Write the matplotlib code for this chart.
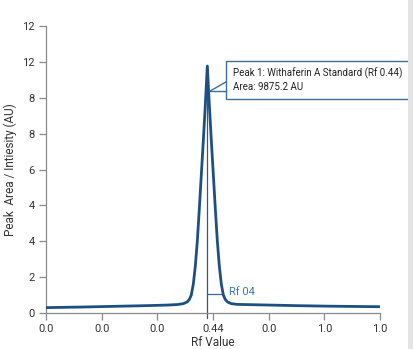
import matplotlib
matplotlib.use("Agg")
import matplotlib.pyplot as plt
from matplotlib.patches import Rectangle

plt.rcParams['font.family'] = ['Roboto', 'DejaVu Sans']

# Data
rf = [0.0, 0.10, 0.20, 0.30, 0.36, 0.393, 0.411, 0.423, 0.429, 0.435, 0.441, 0.447,
      0.453, 0.459, 0.465, 0.471, 0.477, 0.483, 0.489, 0.495, 0.501, 0.507, 0.513,
      0.519, 0.525, 0.531, 0.537, 0.543, 0.555, 0.573, 0.65, 0.75, 0.85, 1.0]
intensity = [0.30, 0.33, 0.37, 0.41, 0.44, 0.47, 0.52, 0.62, 0.75, 1.0, 1.6, 2.6,
             4.0, 5.8, 7.7, 9.6, 11.6, 13.77, 11.6, 9.6, 7.7, 5.8, 4.0,
             2.6, 1.6, 1.0, 0.75, 0.62, 0.52, 0.48, 0.45, 0.41, 0.38, 0.35]

x_ticks = [0, 1/6, 2/6, 3/6, 4/6, 5/6, 1.0]
x_labels = ['0.0', '0.0', '0.0', '0.44', '0.0', '1.0', '1.0']
y_ticks = [0, 2, 4, 6, 8, 10, 12, 14, 16]
y_labels = ['0', '2', '4', '4', '6', '8', '8', '12', '12']

peak_rf = 0.483
peak_top = 13.77
marker_level = 1.06
annotation = "Peak 1: Withaferin A Standard (Rf 0.44)\nArea: 9875.2 AU"

fig = plt.figure(figsize=(4.14, 3.49), dpi=100)
ax = fig.add_axes([46/414, 36/349, 334/414, 287/349])

ax.plot(rf, intensity, color='#1d4f82', lw=2.0, zorder=3, solid_joinstyle='round')

ax.set_xlim(0, 1)
ax.set_ylim(0, 16)
ax.set_xticks(x_ticks)
ax.set_xticklabels(x_labels)
ax.set_yticks(y_ticks)
ax.set_yticklabels(y_labels)

for s in ['top', 'right']:
    ax.spines[s].set_visible(False)
for s in ['left', 'bottom']:
    ax.spines[s].set_color('#8a8a8a')
    ax.spines[s].set_linewidth(0.9)
ax.tick_params(axis='both', colors='#8a8a8a', length=5, width=0.9, labelsize=8,
               labelcolor='#333333', pad=3)

ax.set_xlabel('Rf Value', fontsize=8.5, color='#333333', labelpad=1)
ax.set_ylabel('Peak  Area / Intiesity (AU)', fontsize=8.5, color='#333333', labelpad=4)

# vertical marker line
ax.plot([peak_rf, peak_rf], [-0.3, peak_top], color='#3a5670', lw=0.9, zorder=2, clip_on=False)
ax.plot([peak_rf, 0.529], [marker_level, marker_level], color='#3a6d96', lw=0.9, zorder=2)
ax.text(0.548, 1.17, 'Rf 04', fontsize=8, color='#3b7bab', va='center', ha='left')

# callout box
bx0 = (226 - 46) / 334
by_top = (313 - 61) / 17.94
by_bot = (313 - 99) / 17.94
box = Rectangle((bx0, by_bot), 0.6, by_top - by_bot, facecolor='white',
                edgecolor='#3f6f98', lw=1.0, zorder=5, clip_on=False)
ax.add_patch(box)
px, py = 0.491, 12.37
ax.plot([px, bx0], [py, 12.88], color='#3f6f98', lw=1.0, zorder=6, clip_on=False)
ax.plot([px, bx0], [py, py], color='#3f6f98', lw=1.0, zorder=6, clip_on=False)
ax.text(bx0 + 0.02, 13.0, annotation, fontsize=7, color='#222222', va='center',
        ha='left', zorder=7, linespacing=1.35)

# gray strip at right edge
fig.patches.append(Rectangle((408/414, 0), 1, 1, transform=fig.transFigure,
                             facecolor='#e4e4e4', edgecolor='none', zorder=10))

fig.savefig('out.png', dpi=100)
